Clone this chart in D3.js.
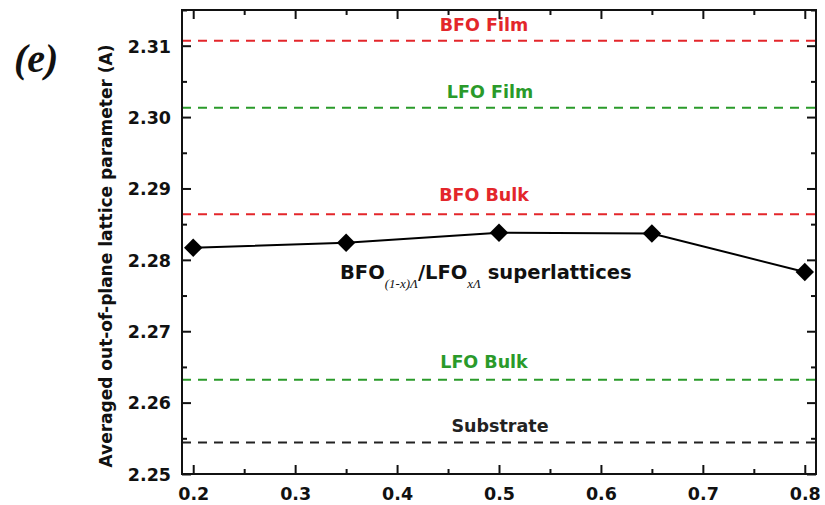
<!DOCTYPE html>
<html>
<head>
<meta charset="utf-8">
<script src="https://cdn.jsdelivr.net/npm/d3@7"></script>
<style>
  body { margin: 0; background: #fff; }
  text { font-family: "DejaVu Sans", Arial, sans-serif; }
</style>
</head>
<body>
<div id="chart"></div>
<script>
// data
var xValues = [0.2, 0.35, 0.5, 0.65, 0.8];
var latticeValues = [2.2817, 2.2824, 2.2838, 2.2837, 2.2783];
var refNames = ['BFO Film', 'LFO Film', 'BFO Bulk', 'LFO Bulk', 'Substrate'];
var refValues = [2.3107, 2.3013, 2.2864, 2.2632, 2.2544];
var refColors = ['#e3262b', '#2a9a2a', '#e3262b', '#2a9a2a', '#222'];
var xTicks = [0.2, 0.3, 0.4, 0.5, 0.6, 0.7, 0.8];
var yTicks = [2.25, 2.26, 2.27, 2.28, 2.29, 2.30, 2.31];

var width = 825, height = 505;
var margin = {top: 10, right: 9, bottom: 31, left: 182};
var w = width - margin.left - margin.right,
    h = height - margin.top - margin.bottom;

var svg = d3.select('#chart').append('svg')
    .attr('width', width)
    .attr('height', height)
  .append('g')
    .attr('transform', 'translate(' + margin.left + ',' + margin.top + ')');

var x = d3.scaleLinear().domain([0.189, 0.811]).range([0, w]);
var y = d3.scaleLinear().domain([2.25, 2.315]).range([h, 0]);

var xMinor = d3.range(0.25, 0.8, 0.1);
var yMinor = d3.range(2.255, 2.315, 0.01);

// reference dashed lines
svg.selectAll('.ref')
    .data(refValues)
  .enter().append('line')
    .attr('class', 'ref')
    .attr('x1', 0).attr('x2', w)
    .attr('y1', function(d) { return y(d); })
    .attr('y2', function(d) { return y(d); })
    .attr('stroke', function(d, i) { return refColors[i]; })
    .attr('stroke-width', 2)
    .attr('stroke-dasharray', '9,7');

// reference labels
var labelX = [484, 490, 484, 484, 500];
var labelDy = [-10, -10, -13, -12, -11];
svg.selectAll('.reflabel')
    .data(refNames)
  .enter().append('text')
    .attr('class', 'reflabel')
    .attr('x', function(d, i) { return labelX[i] - margin.left; })
    .attr('y', function(d, i) { return y(refValues[i]) + labelDy[i]; })
    .attr('text-anchor', 'middle')
    .attr('fill', function(d, i) { return refColors[i]; })
    .style('font-size', '17.5px')
    .style('font-weight', 'bold')
    .text(function(d) { return d; });

// axes (ticks inside)
function tickAxis(axisFn, scale, ticks, len, fmt) {
  return axisFn(scale).tickValues(ticks).tickSizeInner(-len).tickSizeOuter(0).tickFormat(fmt || '');
}
var gx = svg.append('g').attr('transform', 'translate(0,' + h + ')')
    .call(tickAxis(d3.axisBottom, x, xTicks, 9, d3.format('.1f')));
svg.append('g').attr('transform', 'translate(0,' + h + ')')
    .call(tickAxis(d3.axisBottom, x, xMinor, 5));
svg.append('g').call(tickAxis(d3.axisTop, x, xTicks, 9));
svg.append('g').call(tickAxis(d3.axisTop, x, xMinor, 5));
var gy = svg.append('g').call(tickAxis(d3.axisLeft, y, yTicks, 9, d3.format('.2f')));
svg.append('g').call(tickAxis(d3.axisLeft, y, yMinor, 5));
svg.append('g').attr('transform', 'translate(' + w + ',0)')
    .call(tickAxis(d3.axisRight, y, yTicks, 9));
svg.append('g').attr('transform', 'translate(' + w + ',0)')
    .call(tickAxis(d3.axisRight, y, yMinor, 5));

svg.selectAll('.domain').remove();
svg.selectAll('.tick line').attr('stroke', '#111').attr('stroke-width', 2);
svg.selectAll('.tick text').attr('fill', '#111')
    .style('font-size', '17.5px').style('font-weight', 'bold');
gx.selectAll('.tick text').attr('dy', '1.0em').attr('y', 8);
gy.selectAll('.tick text').attr('x', -11).attr('dy', '0.36em');

// frame
svg.append('rect')
    .attr('width', w).attr('height', h)
    .attr('fill', 'none')
    .attr('stroke', '#111')
    .attr('stroke-width', 2);

// data line and diamonds
var pts = xValues.map(function(d, i) { return [d, latticeValues[i]]; });
svg.append('path')
    .datum(pts)
    .attr('fill', 'none')
    .attr('stroke', '#000')
    .attr('stroke-width', 2)
    .attr('d', d3.line().x(function(d) { return x(d[0]); }).y(function(d) { return y(d[1]); }));

svg.selectAll('.pt')
    .data(pts)
  .enter().append('path')
    .attr('class', 'pt')
    .attr('d', d3.symbol().type(d3.symbolSquare).size(170))
    .attr('transform', function(d) { return 'translate(' + x(d[0]) + ',' + y(d[1]) + ') rotate(45)'; })
    .attr('fill', '#000');

// superlattice label
var sl = svg.append('text')
    .attr('x', 340 - margin.left)
    .attr('y', 279 - margin.top)
    .style('font-size', '19.5px')
    .style('font-weight', 'bold')
    .attr('fill', '#111');
sl.append('tspan').text('BFO');
sl.append('tspan').attr('dy', 9)
    .style('font-family', '"Liberation Serif", serif')
    .style('font-style', 'italic').style('font-weight', 'normal').style('font-size', '13px')
    .text('(1-x)Λ');
sl.append('tspan').attr('dy', -9).text('/LFO');
sl.append('tspan').attr('dy', 9)
    .style('font-family', '"Liberation Serif", serif')
    .style('font-style', 'italic').style('font-weight', 'normal').style('font-size', '13px')
    .text('xΛ');
sl.append('tspan').attr('dy', -9).text(' superlattices');

// y axis title
svg.append('text')
    .attr('transform', 'translate(' + (112 - margin.left) + ',' + (256 - margin.top) + ') rotate(-90)')
    .attr('text-anchor', 'middle')
    .style('font-size', '17px')
    .style('font-weight', 'bold')
    .attr('fill', '#111')
    .text('Averaged out-of-plane lattice parameter (A)');

// panel letter
d3.select('svg').append('text')
    .attr('x', 14).attr('y', 72)
    .style('font-family', '"Liberation Serif", serif')
    .style('font-style', 'italic')
    .style('font-weight', 'bold')
    .style('font-size', '40px')
    .attr('fill', '#111')
    .text('(e)');
</script>
</body>
</html>
